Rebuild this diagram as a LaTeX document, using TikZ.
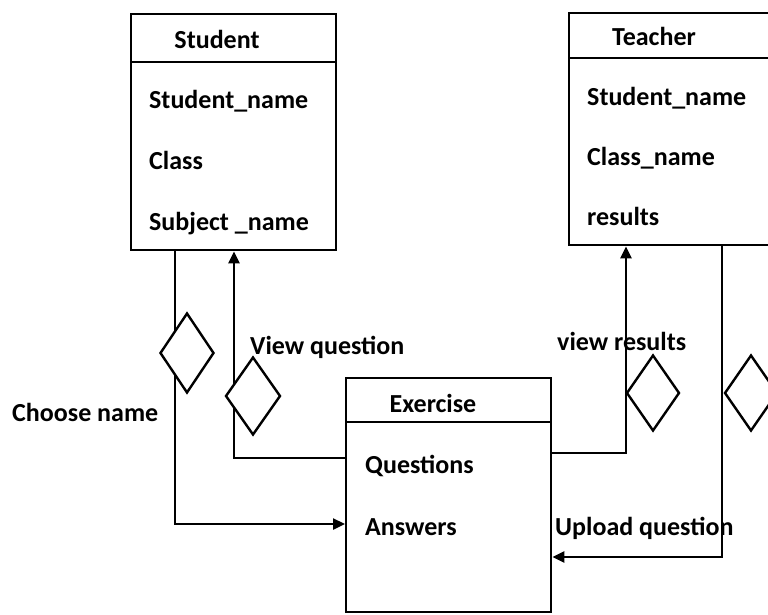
\documentclass[tikz,border=0pt]{standalone}
\usepackage{fontspec}
\setmainfont{Carlito}
\usetikzlibrary{shapes.geometric,arrows.meta}

\begin{document}
\begin{tikzpicture}[x=1pt,y=-1pt,
  box/.style={draw,line width=2.4pt,rectangle,inner sep=0pt,anchor=north west},
  txt/.style={inner sep=0pt,font=\fontsize{26}{31}\selectfont\bfseries},
  attr/.style={txt,anchor=base west},
  head/.style={txt,anchor=base},
  link/.style={line width=2.4pt,-{Triangle[length=12pt,width=11pt]}},
  rel/.style={draw,diamond,fill=white,line width=2.4pt,inner sep=0pt}]
\useasboundingbox (0,0) rectangle (768,614);

% class boxes
\node[box,minimum width=205pt,minimum height=236pt] (student) at (130,13) {};
\node[box,minimum width=240pt,minimum height=232pt] (teacher) at (568,12) {};
\node[box,minimum width=205pt,minimum height=234pt] (exercise) at (345,377) {};

% header dividers
\draw[line width=2.4pt] (student.west |- 0,62) -- (student.east |- 0,62);
\draw[line width=2.4pt] (teacher.west |- 0,58) -- (teacher.east |- 0,58);
\draw[line width=2.4pt] (exercise.west |- 0,422) -- (exercise.east |- 0,422);

% Student
\node[head] (studenthead) at (217,48) {Student};
\node[attr] (stname) at (149,108) {Student\_name};
\node[attr] (stclass) at (149,169) {Class};
\node[attr] (stsubject) at (149,230) {Subject \_name};

% Teacher
\node[head] (teacherhead) at (654,45) {Teacher};
\node[attr] (tname) at (587,105) {Student\_name};
\node[attr] (tclass) at (587,165) {Class\_name};
\node[attr] (tresults) at (587,225) {results};

% Exercise
\node[head] (exercisehead) at (433,412) {Exercise};
\node[attr] (questions) at (365,473) {Questions};
\node[attr] (answers) at (365,535) {Answers};

% connectors
\draw[link] (student.south -| 175,0) |- (exercise.west |- 0,524);
\draw[link] (exercise.west |- 0,458) -| (student.south -| 234,0);
\draw[link] (exercise.east |- 0,453) -| (teacher.south -| 626,0);
\draw[link] (teacher.south -| 722,0) |- (exercise.east |- 0,557);

% relationship diamonds
\node[rel,minimum width=54pt,minimum height=80pt] (choose) at (187,353) {};
\node[rel,minimum width=55pt,minimum height=78pt] (viewq) at (253,396) {};
\node[rel,minimum width=53pt,minimum height=76pt] (viewr) at (653,393) {};
\node[rel,minimum width=53pt,minimum height=76pt] (upload) at (751,393) {};

% connector labels
\node[attr] (lchoose) at (12,421) {Choose name};
\node[attr] (lviewq) at (250,354) {View question};
\node[attr] (lviewr) at (557,350) {view results};
\node[attr] (lupload) at (555,535) {Upload question};
\end{tikzpicture}
\end{document}
